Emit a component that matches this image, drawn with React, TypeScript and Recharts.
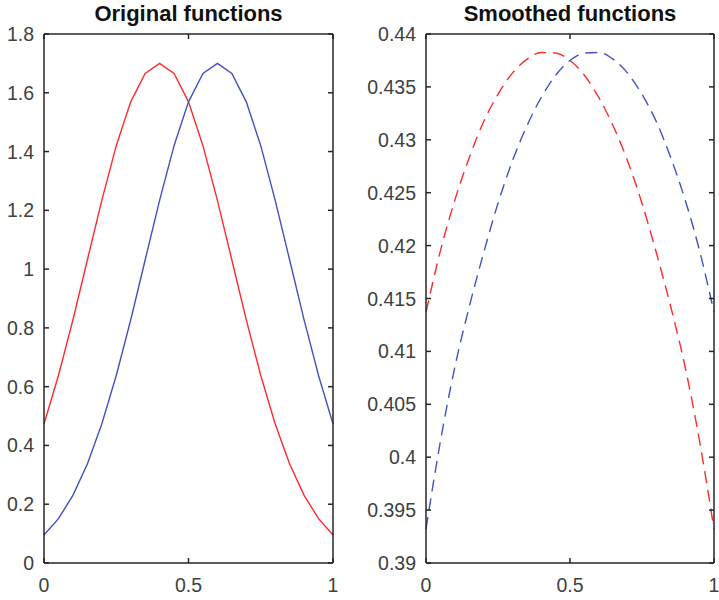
import React from 'react';
import { LineChart, Line, XAxis, YAxis } from 'recharts';

// sample positions (same for both panels)
const xs = [0, 0.05, 0.1, 0.15, 0.2, 0.25, 0.3, 0.35, 0.4, 0.45, 0.5, 0.55, 0.6, 0.65, 0.7, 0.75, 0.8, 0.85, 0.9, 0.95, 1];

// left panel: original functions
const redOriginal = [0.473, 0.638, 0.827, 1.031, 1.234, 1.42, 1.569, 1.666, 1.7, 1.666, 1.569, 1.42, 1.234, 1.031, 0.827, 0.638, 0.473, 0.337, 0.23, 0.151, 0.095];
const blueOriginal = [0.095, 0.151, 0.23, 0.337, 0.473, 0.638, 0.827, 1.031, 1.234, 1.42, 1.569, 1.666, 1.7, 1.666, 1.569, 1.42, 1.234, 1.031, 0.827, 0.638, 0.473];

// right panel: smoothed functions
const redSmoothed = [0.4137, 0.4195, 0.4243, 0.4283, 0.4317, 0.4343, 0.4363, 0.4376, 0.43825, 0.4382, 0.4375, 0.4361, 0.434, 0.4313, 0.428, 0.424, 0.4193, 0.4142, 0.4085, 0.4015, 0.3932];
const blueSmoothed = [0.3932, 0.4015, 0.4085, 0.4142, 0.4193, 0.424, 0.428, 0.4313, 0.434, 0.4361, 0.4375, 0.4382, 0.43825, 0.4376, 0.4363, 0.4343, 0.4317, 0.4283, 0.4243, 0.4195, 0.4137];

const xTicks = [0, 0.5, 1];
const leftTicks = [0, 0.2, 0.4, 0.6, 0.8, 1, 1.2, 1.4, 1.6, 1.8];
const rightTicks = [0.39, 0.395, 0.4, 0.405, 0.41, 0.415, 0.42, 0.425, 0.43, 0.435, 0.44];

const FONT = '"Liberation Sans", Arial, Helvetica, sans-serif';
const AXIS = '#262626';
const TEXT = '#404040';
const RED = '#ff2a2a';
const BLUE = '#4252c0';
const TICK = 5;
const TICK_FONT = 19.5;

const original = xs.map((x, i) => ({ x, red: redOriginal[i], blue: blueOriginal[i] }));
const smoothed = xs.map((x, i) => ({ x, red: redSmoothed[i], blue: blueSmoothed[i] }));

// MATLAB style ticks: marks point inward, labels outside
const LeftTick = (props: any) => {
  const x = Number(props.x);
  const y = Number(props.y);
  return (
    <g>
      <path d={`M${x},${y}h${TICK}`} stroke={AXIS} strokeWidth={1.5} fill="none" />
      <text x={x - 10} y={y} textAnchor="end" dominantBaseline="central" fontSize={TICK_FONT} fill={TEXT} fontFamily={FONT}>
        {props.payload.value}
      </text>
    </g>
  );
};

const RightTick = (props: any) => {
  const x = Number(props.x);
  const y = Number(props.y);
  return <path d={`M${x},${y}h${-TICK}`} stroke={AXIS} strokeWidth={1.5} fill="none" />;
};

const BottomTick = (props: any) => {
  const x = Number(props.x);
  const y = Number(props.y);
  return (
    <g>
      <path d={`M${x},${y}v${-TICK}`} stroke={AXIS} strokeWidth={1.5} fill="none" />
      <text x={x} y={y + 29} textAnchor="middle" fontSize={TICK_FONT} fill={TEXT} fontFamily={FONT}>
        {props.payload.value}
      </text>
    </g>
  );
};

const TopTick = (props: any) => {
  const x = Number(props.x);
  const y = Number(props.y);
  return <path d={`M${x},${y}v${TICK}`} stroke={AXIS} strokeWidth={1.5} fill="none" />;
};

interface PanelProps {
  title: string;
  data: { x: number; red: number; blue: number }[];
  domain: [number, number];
  ticks: number[];
  left: number;
  width: number;
  yAxisWidth: number;
  rightMargin: number;
  dashed?: boolean;
}

function Panel({ title, data, domain, ticks, left, width, yAxisWidth, rightMargin, dashed }: PanelProps) {
  const plotCenter = yAxisWidth + (width - yAxisWidth - rightMargin) / 2;
  const axisLine = { stroke: AXIS, strokeWidth: 1.5 };
  return (
    <div style={{ position: 'absolute', left, top: 0, width, height: 600 }}>
      <div
        style={{
          position: 'absolute',
          left: plotCenter - 150,
          width: 300,
          top: 1,
          textAlign: 'center',
          fontFamily: FONT,
          fontWeight: 'bold',
          fontSize: 22,
          color: '#111',
        }}
      >
        {title}
      </div>
      <LineChart
        width={width}
        height={600}
        data={data}
        margin={{ top: 33, right: rightMargin - 1, bottom: 7, left: 0 }}
        style={{ overflow: 'visible' }}
      >
        <XAxis
          dataKey="x"
          type="number"
          domain={[0, 1]}
          ticks={xTicks}
          interval={0}
          height={30}
          tickSize={0}
          tickMargin={0}
          axisLine={axisLine}
          tickLine={false}
          tick={BottomTick}
        />
        <XAxis
          xAxisId="top"
          orientation="top"
          dataKey="x"
          type="number"
          domain={[0, 1]}
          ticks={xTicks}
          interval={0}
          height={1}
          tickSize={0}
          tickMargin={0}
          axisLine={axisLine}
          tickLine={false}
          tick={TopTick}
        />
        <YAxis
          type="number"
          domain={domain}
          ticks={ticks}
          interval={0}
          allowDataOverflow
          width={yAxisWidth}
          tickSize={0}
          tickMargin={0}
          axisLine={axisLine}
          tickLine={false}
          tick={LeftTick}
        />
        <YAxis
          yAxisId="right"
          orientation="right"
          type="number"
          domain={domain}
          ticks={ticks}
          interval={0}
          allowDataOverflow
          width={1}
          tickSize={0}
          tickMargin={0}
          axisLine={axisLine}
          tickLine={false}
          tick={RightTick}
        />
        <Line
          dataKey="red"
          type={dashed ? 'monotone' : 'linear'}
          stroke={RED}
          strokeWidth={1.4}
          strokeDasharray={dashed ? '12 7' : undefined}
          dot={false}
          isAnimationActive={false}
        />
        <Line
          dataKey="blue"
          type={dashed ? 'monotone' : 'linear'}
          stroke={BLUE}
          strokeWidth={1.4}
          strokeDasharray={dashed ? '12 7' : undefined}
          dot={false}
          isAnimationActive={false}
        />
      </LineChart>
    </div>
  );
}

export default function App() {
  return (
    <div style={{ position: 'absolute', left: 0, top: 0, width: 719, height: 600, background: '#fff' }}>
      <Panel
        title="Original functions"
        data={original}
        domain={[0, 1.8]}
        ticks={leftTicks}
        left={0}
        width={345}
        yAxisWidth={44}
        rightMargin={12}
      />
      <Panel
        title="Smoothed functions"
        data={smoothed}
        domain={[0.39, 0.44]}
        ticks={rightTicks}
        left={360}
        width={359}
        yAxisWidth={66}
        rightMargin={5}
        dashed
      />
    </div>
  );
}
